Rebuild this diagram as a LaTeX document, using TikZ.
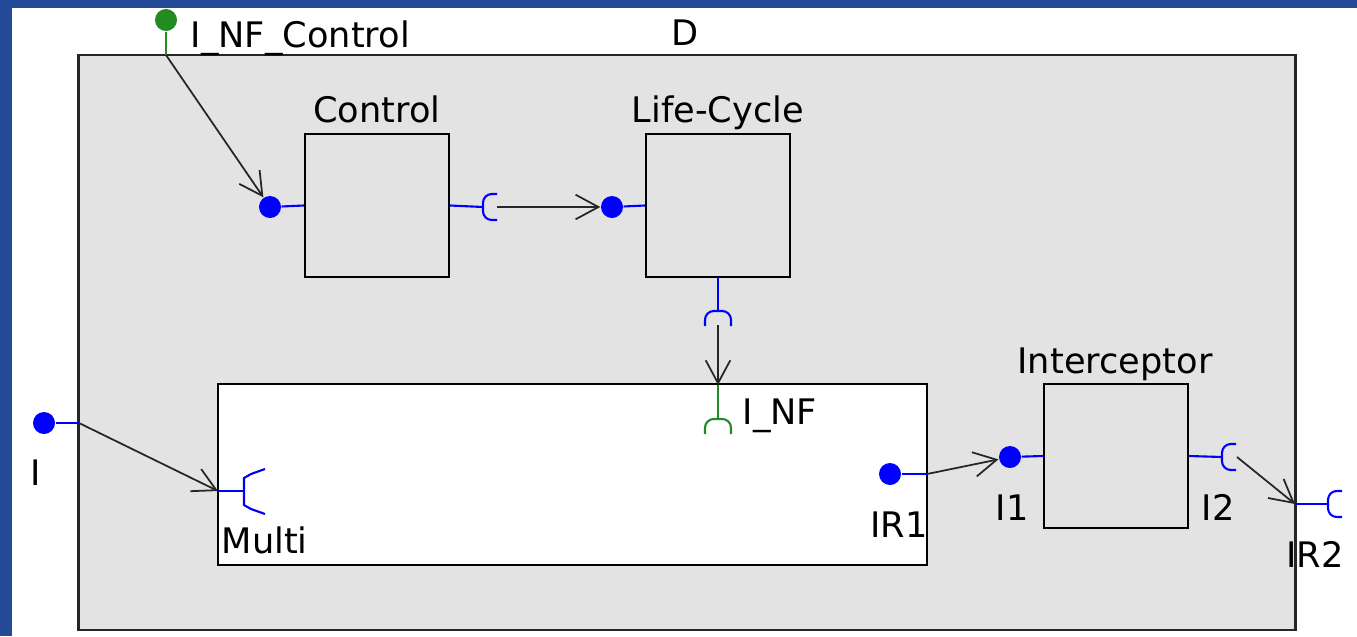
\documentclass[tikz,border=0pt]{standalone}
\usepackage{fontspec}
\setmainfont{DejaVu Sans}
\usetikzlibrary{arrows.meta}
\definecolor{frameblue}{HTML}{234A96}
\definecolor{compgray}{HTML}{E3E3E3}
\definecolor{portgreen}{HTML}{228B22}
\tikzset{
  compbox/.style={draw=black, line width=0.6pt, fill=compgray, inner sep=0pt,
    minimum width=1.44cm, minimum height=1.43cm},
  provdot/.style={circle, fill=blue, minimum size=0.22cm, inner sep=0pt},
  nfdot/.style={provdot, fill=portgreen},
  plink/.style={blue, line width=0.6pt},
  glink/.style={portgreen, line width=0.6pt},
  conn/.style={-{Straight Barb[length=6.5pt,width=7pt]}, line width=0.5pt, black!85},
  lbl/.style={font=\fontsize{10}{12}\selectfont, anchor=base, inner sep=0pt},
  cupright/.pic={\draw[rounded corners=2.5pt] (14,-13) -- (0,-13) -- (0,13) -- (14,13);},
  cupdown/.pic={\draw[rounded corners=2.5pt] (-13,15) -- (-13,0) -- (13,0) -- (13,15);}
}
\begin{document}
\begin{tikzpicture}[x=0.01cm, y=-0.01cm]
  \useasboundingbox (0,0) rectangle (1357,636);
  \fill[frameblue] (0,0) rectangle (1357,636);
  \fill[white] (12,8) rectangle (1357,636);

  % ===== composite D =====
  \node[draw=black!85, line width=0.7pt, fill=compgray, minimum width=12.16cm,
    minimum height=5.75cm] (D) at (687,342.5) {};
  \node[lbl] (Dlbl) at (685,45) {D};
  \node[draw=black, line width=0.6pt, fill=white, minimum width=7.09cm,
    minimum height=1.81cm] (inner) at (572.5,474.5) {};

  % ===== components =====
  \node[compbox] (control) at (377,205.5) {};
  \node[lbl] (controlLbl) at (377,122) {Control};
  \node[compbox] (life) at (718,205.5) {};
  \node[lbl] (lifeLbl) at (718,122) {Life-Cycle};
  \node[compbox, minimum height=1.44cm] (icpt) at (1116,456) {};
  \node[lbl] (icptLbl) at (1115,373) {Interceptor};

  % ===== ports =====
  \node[nfdot] (ncIn) at (166,20) {};
  \coordinate (ncEdge) at (166,55);
  \draw[glink] (ncIn) -- (ncEdge);
  \node[lbl, anchor=base west] (ncLbl) at (190,47) {I\_NF\_Control};

  \node[provdot] (ctlIn) at (270,207) {};
  \draw[plink] (ctlIn) -- (control.west);
  \coordinate (ctlCupL) at (483,207);
  \coordinate (ctlCup) at (497,207);
  \draw[plink] (control.east) -- (ctlCupL);
  \pic[blue, line width=0.6pt] at (ctlCupL) {cupright};

  \node[provdot] (lifeIn) at (612,207) {};
  \draw[plink] (lifeIn) -- (life.west);
  \coordinate (lifeCupT) at (718,311);
  \coordinate (lifeCup) at (718,325);
  \draw[plink] (life.south) -- (lifeCupT);
  \pic[blue, line width=0.6pt] at (lifeCupT) {cupdown};

  \coordinate (nfTop) at (718,385);
  \coordinate (nfCupT) at (718,419);
  \draw[glink] (nfTop) -- (nfCupT);
  \pic[portgreen, line width=0.6pt] at (nfCupT) {cupdown};
  \node[lbl, anchor=base west] (nfLbl) at (742,424) {I\_NF};

  \node[provdot] (iIn) at (44,423) {};
  \coordinate (iEdge) at (79,423);
  \draw[plink] (iIn) -- (iEdge);
  \node[lbl] (iLbl) at (36,485) {I};

  \coordinate (multi) at (218,491);
  \draw[plink] (multi) -- (244,491);
  \draw[plink] (265,469) -- (251,474) -- (244,478) -- (244,505) -- (251,509) -- (265,514);
  \node[lbl, anchor=base west] (multiLbl) at (221,553) {Multi};

  \node[provdot] (ir1) at (890,474) {};
  \coordinate (ir1Edge) at (927,474);
  \draw[plink] (ir1) -- (ir1Edge);
  \node[lbl] (ir1Lbl) at (899,537) {IR1};

  \node[provdot] (i1) at (1010,457) {};
  \draw[plink] (i1) -- (icpt.west);
  \node[lbl] (i1Lbl) at (1012,520) {I1};

  \coordinate (i2CupL) at (1222,457);
  \coordinate (i2Cup) at (1237,457);
  \draw[plink] (icpt.east) -- (i2CupL);
  \pic[blue, line width=0.6pt] at (i2CupL) {cupright};
  \node[lbl] (i2Lbl) at (1218,520) {I2};

  \coordinate (ir2Edge) at (1295,504);
  \coordinate (ir2CupL) at (1328,504);
  \draw[plink] (ir2Edge) -- (ir2CupL);
  \pic[blue, line width=0.6pt] at (ir2CupL) {cupright};
  \node[lbl] (ir2Lbl) at (1315,567) {IR2};

  % ===== connectors =====
  \draw[conn] (ncEdge) -- (ctlIn);
  \draw[conn] (ctlCup) -- (lifeIn);
  \draw[conn] (lifeCup) -- (nfTop);
  \draw[conn] (iEdge) -- (multi);
  \draw[conn] (ir1Edge) -- (i1);
  \draw[conn] (i2Cup) -- (ir2Edge);
\end{tikzpicture}
\end{document}
